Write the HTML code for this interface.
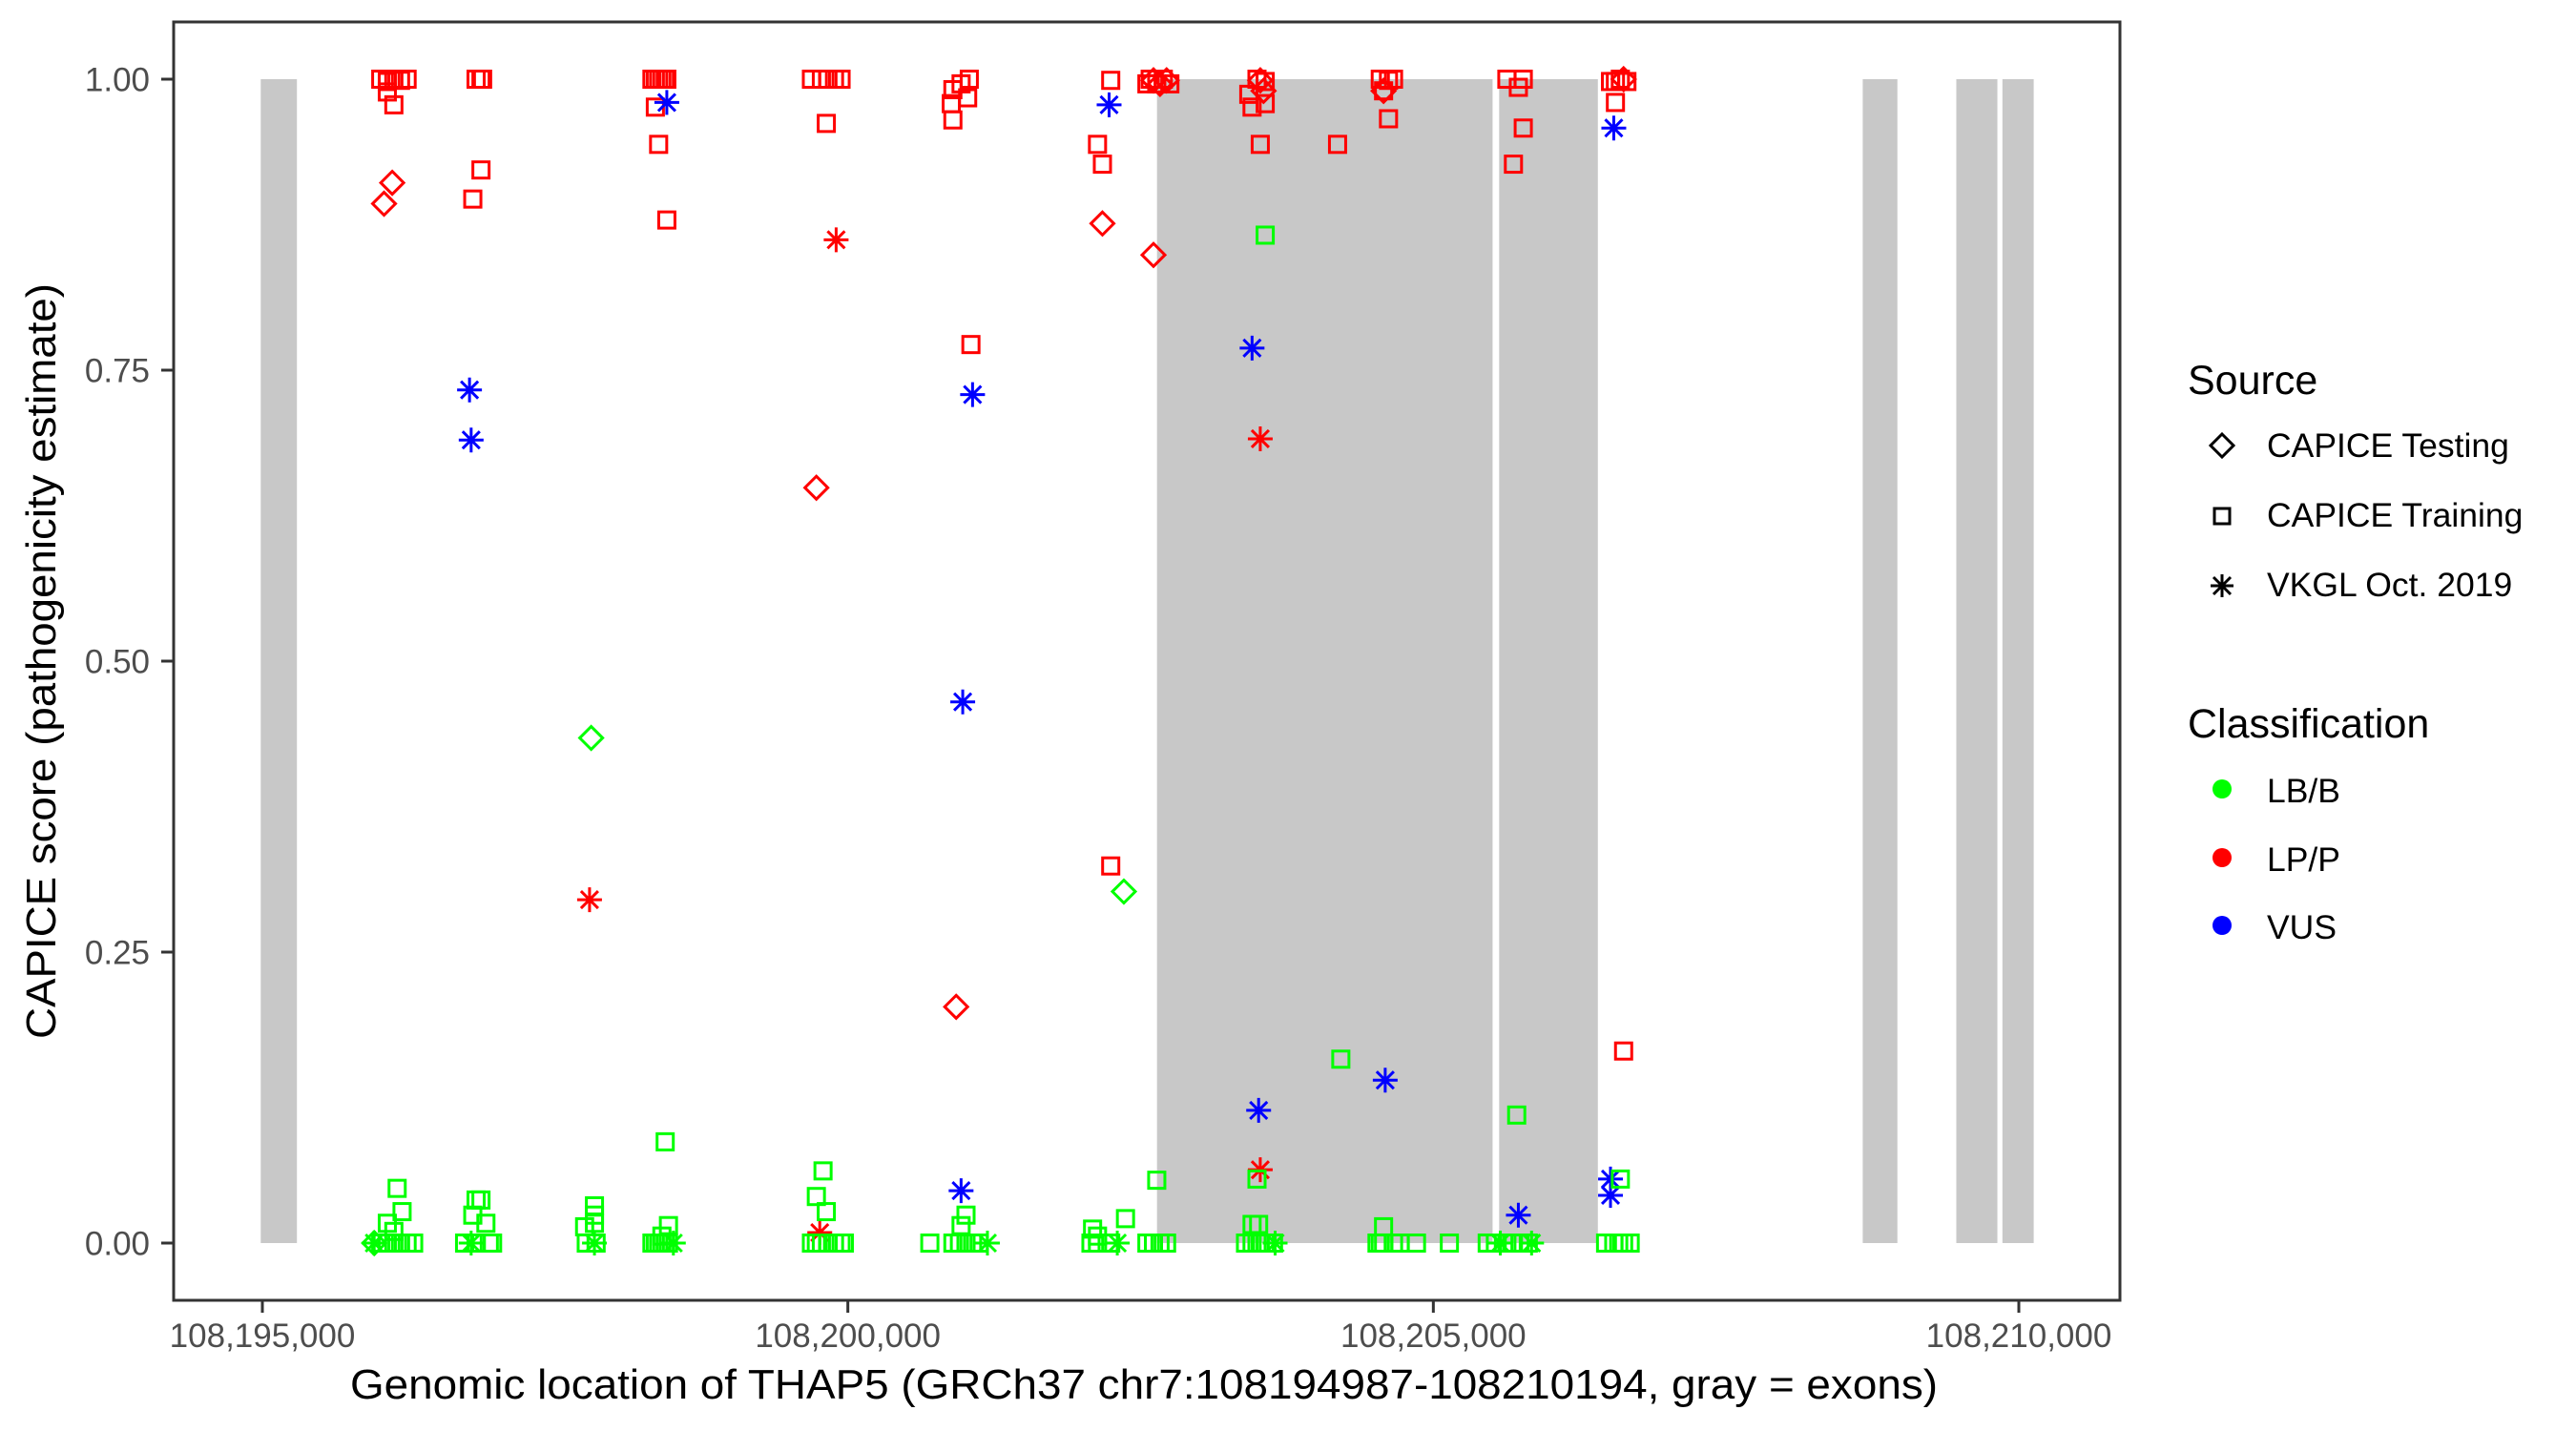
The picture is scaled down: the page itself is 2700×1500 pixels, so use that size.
<!DOCTYPE html>
<html><head><meta charset="utf-8"><title>THAP5 CAPICE scores</title>
<style>html,body{margin:0;padding:0;background:#fff}svg{display:block}text{font-family:"Liberation Sans",Arial,sans-serif}</style>
</head><body>
<svg id="chart" xmlns="http://www.w3.org/2000/svg" width="2700" height="1500" viewBox="0 0 2700 1500">
<rect x="0" y="0" width="2700" height="1500" fill="#fff"/>
<g id="exons"></g>
<g id="points"></g>
<rect x="182" y="23" width="2040" height="1340" fill="none" stroke="#333" stroke-width="3"/>
<g id="axes"></g>
<text x="1199" y="1466" text-anchor="middle" font-size="44" textLength="1664" lengthAdjust="spacingAndGlyphs" fill="#000">Genomic location of THAP5 (GRCh37 chr7:108194987-108210194, gray = exons)</text>
<text transform="translate(58,693) rotate(-90)" text-anchor="middle" font-size="44" textLength="792" lengthAdjust="spacingAndGlyphs" fill="#000">CAPICE score (pathogenicity estimate)</text>
<g>
<text x="2293" y="413" font-size="43">Source</text>
<polygon points="2329,455 2341,467 2329,479 2317,467" fill="none" stroke="#000" stroke-width="3"/>
<text x="2376" y="479" font-size="35.5">CAPICE Testing</text>
<rect x="2321" y="533" width="16" height="16" fill="none" stroke="#000" stroke-width="3"/>
<text x="2376" y="552" font-size="35.5">CAPICE Training</text>
<g stroke="#000" stroke-width="3"><line x1="2317" y1="614" x2="2341" y2="614"/><line x1="2329" y1="602" x2="2329" y2="626"/><line x1="2320" y1="605" x2="2338" y2="623"/><line x1="2338" y1="605" x2="2320" y2="623"/></g>
<text x="2376" y="625" font-size="35.5">VKGL Oct. 2019</text>
</g>
<g>
<text x="2293" y="773" font-size="43">Classification</text>
<circle cx="2329" cy="827" r="10" fill="#00ff00"/>
<text x="2376" y="841" font-size="35.5">LB/B</text>
<circle cx="2329" cy="899" r="10" fill="#ff0000"/>
<text x="2376" y="913" font-size="35.5">LP/P</text>
<circle cx="2329" cy="970" r="10" fill="#0000ff"/>
<text x="2376" y="984" font-size="35.5">VUS</text>
</g>
</svg>
<script>
const xTicks = [108195000, 108200000, 108205000, 108210000];
const xTickLabels = ["108,195,000", "108,200,000", "108,205,000", "108,210,000"];
const yTicks = [0, 0.25, 0.5, 0.75, 1];
const yTickLabels = ["0.00", "0.25", "0.50", "0.75", "1.00"];
const exonStarts = [108194986, 108202640, 108205562, 108208667, 108209466, 108209860];
const exonEnds   = [108195295, 108205506, 108206405, 108208963, 108209817, 108210127];
// offsets from 108,195,000
const ptOffset = [
 1011,1067,1123,1180,1236,1123,1067,1039,1109, 955,1011,1067,1123,1180,1236,1292,1151,1193,1067,1123,955,
 1825,1867,1881,1797,1867,1769,1783,1825,1867,1797,1909,1727,1825,1938,1966,1783,
 2808,2794,2752,2836,2836,2836,2766,2850,2836,
 3327,3356,3384,3412,3440,3454,3356,3384,3454,3454,3440,3468,3412,3327,3356,3384,3412,3440,3468,3510,
 4689,4774,4830,4886,4942,4816,4731,4900,4760,4788,4731,4816,4689,4731,4774,4830,4886,4942,4970,
 5897,5883,5897,5967,6037,6023,6051,5925,6065,5981,5967,5700,5897,5953,6009,6065,6121,6009,5967,6192,
 7245,7132,7174,7245,7554,7582,7610,7638,7666,7694,7722,7750,7174,7610,7231,7357,7638,7371,7090,7132,7076,7132,7245,7554,7610,7666,7722,7301,
 8452,8424,8494,8564,8522,8564,8522,8550,8522,8522,8452,8508,8564,8494,8452,8508,8396,8452,8494,8522,8564,8635,8649,
 9182,9547,9575,9617,9660,9617,9575,9210,9575,9519,9547,9575,9660,9716,9856,10137,9589,
 10628,10684,10726,10768,10768,10712,10460,10530,10628,10684,10740,10811,10572,10839,10726,
 11513,11555,11597,11653,11555,11625,11625,11541,11513,11513,11597,11471,11541,11583,11625,11681
];
const ptScore = [
 1,0.998,1,0.999,1,0.978,0.989,0.893,0.911, 0,0,0,0,0,0,0,0.047,0.027,0.017,0.01,0,
 1,1,1,0.897,0.922,0.733,0.690,0.037,0.037,0.024,0.017,0,0,0,0,0,
 0.434,0.295,0.014,0.032,0.024,0.017,0,0,0,
 1,0.976,0.944,1,1,0.879,1,1,1,0.98,0.087,0.015,0.006,0,0,0,0,0,0,0,
 1,1,1,1,1,0.962,0.649,0.862,0.009,0.062,0.040,0.027,0,0,0,0,0,0,0,
 0.965,0.979,0.991,0.996,1,0.984,0.772,0.203,0.729,0.465,0.045,0,0,0,0.024,0,0,0,0.015,0,
 0.999,0.944,0.927,0.324,0.996,1,0.999,0.996,0.996,1,0.999,0.996,0.876,0.849,0.978,0.302,0.054,0.021,0.012,0.006,0,0,0,0,0,0,0,0,
 0.976,0.987,1,0.998,0.691,0.979,0.999,0.99,0.944,0.063,0.769,0.114,0.866,0.055,0.016,0.016,0,0,0,0,0,0,0,
 0.944,1,0.99,0.966,1,0.999,0.99,0.158,0.014,0,0,0,0,0,0,0,0.140,
 1,0.927,0.993,0.958,1,0.110,0,0,0,0,0,0,0,0,0.024,
 0.998,0.98,1,0.998,0.998,0.165,1,0.958,0.055,0.041,0.055,0,0,0,0,0
];
const ptSource = [
 "tr","tr","tr","tr","tr","tr","tr","te","te", "te","tr","tr","tr","tr","tr","tr","tr","tr","tr","tr","vk",
 "tr","tr","tr","tr","tr","vk","vk","tr","tr","tr","tr","tr","tr","tr","tr","vk",
 "te","vk","tr","tr","tr","tr","tr","tr","vk",
 "tr","tr","tr","tr","tr","tr","tr","tr","tr","vk","tr","tr","tr","tr","tr","tr","tr","tr","tr","vk",
 "tr","tr","tr","tr","tr","tr","te","vk","vk","tr","tr","tr","tr","tr","tr","tr","tr","tr","tr",
 "tr","tr","tr","tr","tr","tr","tr","te","vk","vk","vk","tr","tr","tr","tr","tr","tr","tr","tr","vk",
 "tr","tr","tr","tr","tr","tr","te","tr","te","tr","te","tr","te","te","vk","te","tr","tr","tr","tr","tr","tr","tr","tr","tr","tr","tr","vk",
 "tr","tr","tr","tr","vk","tr","te","te","tr","vk","vk","vk","tr","tr","tr","tr","tr","tr","tr","tr","tr","tr","vk",
 "tr","tr","te","tr","tr","tr","tr","tr","tr","tr","tr","tr","tr","tr","tr","tr","vk",
 "tr","tr","tr","tr","tr","tr","tr","tr","tr","tr","tr","tr","vk","vk","vk",
 "tr","tr","tr","tr","tr","tr","te","vk","vk","vk","tr","tr","tr","tr","tr","tr"
];
const ptClass = [
 "P","P","P","P","P","P","P","P","P", "B","B","B","B","B","B","B","B","B","B","B","B",
 "P","P","P","P","P","V","V","B","B","B","B","B","B","B","B","B",
 "B","P","B","B","B","B","B","B","B",
 "P","P","P","P","P","P","P","P","P","V","B","B","B","B","B","B","B","B","B","B",
 "P","P","P","P","P","P","P","P","P","B","B","B","B","B","B","B","B","B","B",
 "P","P","P","P","P","P","P","P","V","V","V","B","B","B","B","B","B","B","B","B",
 "P","P","P","P","P","P","P","P","P","P","P","P","P","P","V","B","B","B","B","B","B","B","B","B","B","B","B","B",
 "P","P","P","P","P","P","P","P","P","P","V","V","B","B","B","B","B","B","B","B","B","B","B",
 "P","P","P","P","P","P","P","B","B","B","B","B","B","B","B","B","V",
 "P","P","P","P","P","B","B","B","B","B","B","B","B","B","V",
 "P","P","P","P","P","P","P","V","V","V","B","B","B","B","B","B"
];
const baseGenome = 108195000;
const classColor = {B:"#00ff00", P:"#ff0000", V:"#0000ff"};
const NS = "http://www.w3.org/2000/svg";
function xScale(g){ return 275 + (g - 108195000) * (1841/15000); }
function yScale(v){ return 1303 - v * 1220; }
function mk(tag, attrs, parent){ const e=document.createElementNS(NS,tag); for(const k in attrs) e.setAttribute(k, attrs[k]); parent.appendChild(e); return e; }

const exG = document.getElementById('exons');
for (let i=0;i<exonStarts.length;i++){
  const r = mk('rect',{x:xScale(exonStarts[i]), y:yScale(1), width:xScale(exonEnds[i])-xScale(exonStarts[i]), height:yScale(0)-yScale(1), fill:'#c8c8c8'}, exG);
  
  
}

const ax = document.getElementById('axes');
for (let i=0;i<xTicks.length;i++){
  const x = xScale(xTicks[i]);
  const t = mk('line',{x1:x,x2:x,y1:1363,y2:1376,stroke:'#333','stroke-width':3}, ax);
  
  
  const l = mk('text',{x:x,y:1412,'text-anchor':'middle','font-size':35,fill:'#4d4d4d'}, ax);
  l.textContent = xTickLabels[i];
  
  
}
for (let i=0;i<yTicks.length;i++){
  const y = yScale(yTicks[i]);
  const t = mk('line',{x1:169,x2:182,y1:y,y2:y,stroke:'#333','stroke-width':3}, ax);
  
  
  const l = mk('text',{x:157,y:y+12.5,'text-anchor':'end','font-size':35,fill:'#4d4d4d'}, ax);
  l.textContent = yTickLabels[i];
  
  
}

const pg = document.getElementById('points');
for (let i=0;i<ptOffset.length;i++){
  const cx = xScale(baseGenome + ptOffset[i]), cy = yScale(ptScore[i]);
  const c = classColor[ptClass[i]];
  let el;
  if (ptSource[i]==='tr'){
    el = mk('rect',{x:cx-8.5,y:cy-8.5,width:17,height:17,fill:'none',stroke:c,'stroke-width':3}, pg);
  } else if (ptSource[i]==='te'){
    el = mk('polygon',{points:`${cx},${cy-12} ${cx+12},${cy} ${cx},${cy+12} ${cx-12},${cy}`,fill:'none',stroke:c,'stroke-width':3}, pg);
  } else {
    el = mk('path',{d:`M${cx-13},${cy}H${cx+13}M${cx},${cy-13}V${cy+13}M${cx-9},${cy-9}L${cx+9},${cy+9}M${cx+9},${cy-9}L${cx-9},${cy+9}`,fill:'none',stroke:c,'stroke-width':3}, pg);
  }
  
  
}
</script>
</body></html>
